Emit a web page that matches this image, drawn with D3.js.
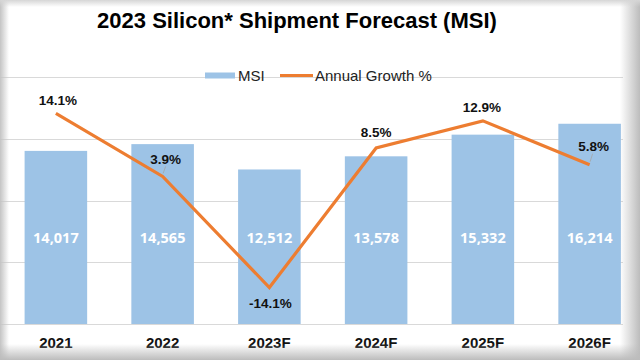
<!DOCTYPE html>
<html><head><meta charset="utf-8">
<script src="https://cdn.jsdelivr.net/npm/d3@7"></script>
<style>html,body{margin:0;padding:0;background:#fff;}svg{display:block;}</style>
</head><body>
<svg id="c" width="640" height="360"></svg>
<script>
const categories = ["2021","2022","2023F","2024F","2025F","2026F"];
const msi = [14017,14565,12512,13578,15332,16214];
const growth = [14.1,3.9,-14.1,8.5,12.9,5.8];
const msiTicks = [0,5000,10000,15000,20000];
const growthDomain = [-20,20];

const svg = d3.select("#c");
const W = 640, H = 360;
const plot = {left: 2.5, right: 643, top: 77, bottom: 324, clipRight: 623};

svg.append("rect").attr("width",W).attr("height",H).attr("fill","#fff");
const defs = svg.append("defs");
defs.append("clipPath").attr("id","pc").append("rect")
  .attr("x",0).attr("y",0).attr("width",plot.clipRight).attr("height",H);

const x = d3.scaleBand().domain(categories).range([plot.left, plot.right])
  .paddingInner(0.414).paddingOuter(0.207);
const y = d3.scaleLinear().domain([0,20000]).range([plot.bottom, plot.top]);
const y2 = d3.scaleLinear().domain(growthDomain).range([plot.bottom, plot.top]);

const g = svg.append("g").attr("clip-path","url(#pc)");

// gridlines
g.append("g").selectAll("line").data(msiTicks).join("line")
  .attr("x1",0).attr("x2",plot.clipRight)
  .attr("y1",d=>Math.round(y(d))+0.5).attr("y2",d=>Math.round(y(d))+0.5)
  .attr("stroke","#d9d9d9").attr("stroke-width",1);

// bars
g.append("g").selectAll("rect").data(msi).join("rect")
  .attr("x",(d,i)=>x(categories[i])).attr("width",x.bandwidth())
  .attr("y",d=>y(d)).attr("height",d=>y(0)-y(d))
  .attr("fill","#9dc3e6");

// bar labels
const barLabelValue = 7000;
g.append("g").selectAll("text").data(msi).join("text")
  .attr("x",(d,i)=>x(categories[i])+x.bandwidth()/2)
  .attr("y",y(barLabelValue)+5)
  .attr("text-anchor","middle")
  .attr("font-family","'Open Sans', sans-serif").attr("font-weight",700)
  .attr("font-size","14.5px").attr("fill","#fff")
  .text(d=>d3.format(",")(d));

// line
const cx = i => x(categories[i]) + x.bandwidth()/2;
const line = d3.line().x((d,i)=>cx(i)).y(d=>y2(d));
g.append("path").datum(growth).attr("d",line)
  .attr("fill","none").attr("stroke","#ed7d31").attr("stroke-width",3.2)
  .attr("stroke-linejoin","miter").attr("stroke-linecap","butt");

// growth label offsets (dx, dy from point)
const gOff = [[2,-13],[3,-17],[1,16],[0,-16],[-1,-14],[4,-18]];
const leaders = [false,true,false,false,false,true];
g.append("g").selectAll("line").data(growth.map((d,i)=>i).filter(i=>leaders[i])).join("line")
  .attr("x1",i=>cx(i)+0.5).attr("y1",i=>y2(growth[i])-3)
  .attr("x2",i=>cx(i)+3).attr("y2",i=>y2(growth[i])+gOff[i][1]+7)
  .attr("stroke","#a6a6a6").attr("stroke-width",0.8);
g.append("g").selectAll("text").data(growth).join("text")
  .attr("x",(d,i)=>cx(i)+gOff[i][0])
  .attr("y",(d,i)=>y2(d)+gOff[i][1])
  .attr("dy","0.35em")
  .attr("text-anchor","middle")
  .attr("font-family","'Liberation Sans', Arial, sans-serif").attr("font-weight",700)
  .attr("font-size","13.5px").attr("fill","#111")
  .text(d=>d.toFixed(1)+"%");

// x axis labels
svg.append("g").selectAll("text").data(categories).join("text")
  .attr("x",(d,i)=>cx(i)).attr("y",348)
  .attr("text-anchor","middle")
  .attr("font-family","'Liberation Sans', Arial, sans-serif").attr("font-weight",700)
  .attr("font-size","15px").attr("fill","#111")
  .text(d=>d);

// legend
const lg = svg.append("g");
lg.append("rect").attr("x",205).attr("y",72.5).attr("width",30).attr("height",6).attr("fill","#9dc3e6");
lg.append("text").attr("x",238).attr("y",81)
  .attr("font-family","'Liberation Sans', Arial, sans-serif").attr("font-size","15px").attr("fill","#222")
  .text("MSI");
lg.append("line").attr("x1",280).attr("x2",313).attr("y1",75.5).attr("y2",75.5)
  .attr("stroke","#ed7d31").attr("stroke-width",3.2);
lg.append("text").attr("x",315).attr("y",81)
  .attr("font-family","'Liberation Sans', Arial, sans-serif").attr("font-size","15px").attr("fill","#222")
  .text("Annual Growth %");

// title
svg.append("text").attr("x",297).attr("y",28).attr("text-anchor","middle")
  .attr("font-family","'Liberation Sans', Arial, sans-serif").attr("font-weight",700)
  .attr("font-size","22px").attr("fill","#000")
  .text("2023 Silicon* Shipment Forecast (MSI)");

// frame shading
function grad(id,x1,y1,x2,y2,c){
  const lgd = defs.append("linearGradient").attr("id",id)
    .attr("x1",x1).attr("y1",y1).attr("x2",x2).attr("y2",y2);
  lgd.append("stop").attr("offset","0%").attr("stop-color",c).attr("stop-opacity",0);
  lgd.append("stop").attr("offset","100%").attr("stop-color",c).attr("stop-opacity",1);
}
grad("gr",0,0,1,0,"#bcbcbc");
grad("gl",1,0,0,0,"#c4c4c4");
grad("gb",0,0,0,1,"#bcbcbc");
grad("gt",0,1,0,0,"#d6d6d6");
svg.append("rect").attr("x",620).attr("y",0).attr("width",20).attr("height",H).attr("fill","url(#gr)");
svg.append("rect").attr("x",0).attr("y",0).attr("width",9).attr("height",H).attr("fill","url(#gl)");
svg.append("rect").attr("x",0).attr("y",344).attr("width",W).attr("height",16).attr("fill","url(#gb)");
svg.append("rect").attr("x",0).attr("y",0).attr("width",W).attr("height",7).attr("fill","url(#gt)");
</script>
</body></html>
